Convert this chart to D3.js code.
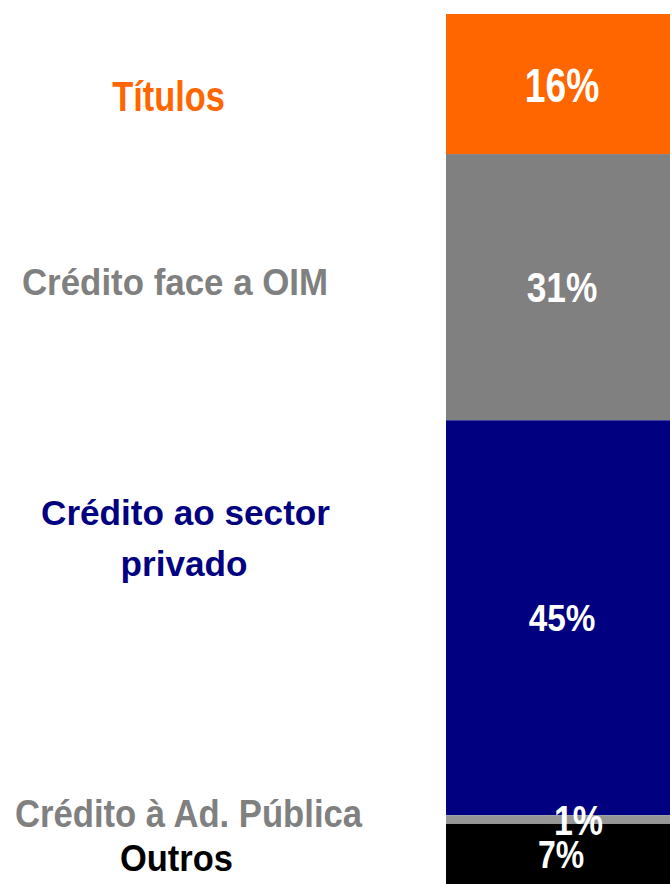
<!DOCTYPE html>
<html>
<head>
<meta charset="utf-8">
<script src="https://cdn.jsdelivr.net/npm/d3@7"></script>
<style>
  html, body { margin: 0; padding: 0; background: #fff; overflow: hidden; }
  svg { display: block; }
</style>
</head>
<body>
<script>
// data (top of the bar first)
let categories = ["Títulos", "Crédito face a OIM", "Crédito ao sector privado", "Crédito à Ad. Pública", "Outros"];
let shares = [16.1, 30.6, 45.4, 1.0, 6.9];
let labelLines = [["Títulos"], ["Crédito face a OIM"], ["Crédito ao sector", "privado"], ["Crédito à Ad. Pública"], ["Outros"]];

let colors = ["#FF6600", "#808080", "#000080", "#969696", "#000000"];
let textColors = ["#FF6600", "#808080", "#000080", "#808080", "#000000"];

let W = 670, H = 884;
let barSetting = { x0: 446, x1: 678, top: 14, bottom: 884 };

// the left labels are placed by hand, like in the slide
let catText = [
  { x: [168.5], y: [111], size: 43, sx: 0.8 },
  { x: [175], y: [295], size: 37.5, sx: 0.93 },
  { x: [185.5, 184], y: [525, 576], size: 35.5, sx: 0.99 },
  { x: [188.5], y: [827], size: 38.5, sx: 0.9 },
  { x: [176.5], y: [871], size: 37.5, sx: 0.92 }
];
let pctText = [
  { dx: 0, size: 49, sx: 0.76 },
  { dx: 0, size: 42, sx: 0.84 },
  { dx: 0, size: 37, sx: 0.9 },
  { dx: 16.5, size: 42, sx: 0.81 },
  { dx: -1, size: 39, sx: 0.82 }
];

function drawChart(){
  let svg = d3.select("body").append("svg")
    .attr("width", W)
    .attr("height", H);

  let y = d3.scaleLinear().domain([0, 100]).range([barSetting.top, barSetting.bottom]);

  let starts = [];
  let acc = 0;
  shares.forEach((v) => { starts.push(acc); acc += v; });

  let segs = categories.map((c, i) => ({ cat: c, v: shares[i], s0: starts[i], s1: starts[i] + shares[i], i: i }));

  svg.append("g").selectAll("rect")
    .data(segs).enter()
    .append("rect")
      .attr("x", barSetting.x0)
      .attr("width", barSetting.x1 - barSetting.x0)
      .attr("y", (d) => y(d.s0))
      .attr("height", (d) => y(d.s1) - y(d.s0))
      .attr("fill", (d) => colors[d.i]);

  let cx = (barSetting.x0 + barSetting.x1) / 2;

  // percentages inside the bar
  svg.append("g").selectAll("text")
    .data(segs).enter()
    .append("text")
      .attr("transform", (d) => {
        let st = pctText[d.i];
        let mid = (y(d.s0) + y(d.s1)) / 2;
        return "translate(" + (cx + st.dx) + "," + (mid + st.size * 0.358) + ") scale(" + st.sx + ",1)";
      })
      .attr("text-anchor", "middle")
      .attr("font-family", "'Liberation Sans', Arial, sans-serif")
      .attr("font-weight", "bold")
      .attr("font-size", (d) => pctText[d.i].size)
      .attr("fill", "#ffffff")
      .text((d) => Math.round(d.v) + "%");

  // category names on the left
  let g = svg.append("g");
  labelLines.forEach((lines, i) => {
    let st = catText[i];
    lines.forEach((line, k) => {
      g.append("text")
        .attr("transform", "translate(" + st.x[k] + "," + st.y[k] + ") scale(" + st.sx + ",1)")
        .attr("text-anchor", "middle")
        .attr("font-family", "'Liberation Sans', Arial, sans-serif")
        .attr("font-weight", "bold")
        .attr("font-size", st.size)
        .attr("fill", textColors[i])
        .text(line);
    });
  });
}

drawChart();
</script>
</body>
</html>
